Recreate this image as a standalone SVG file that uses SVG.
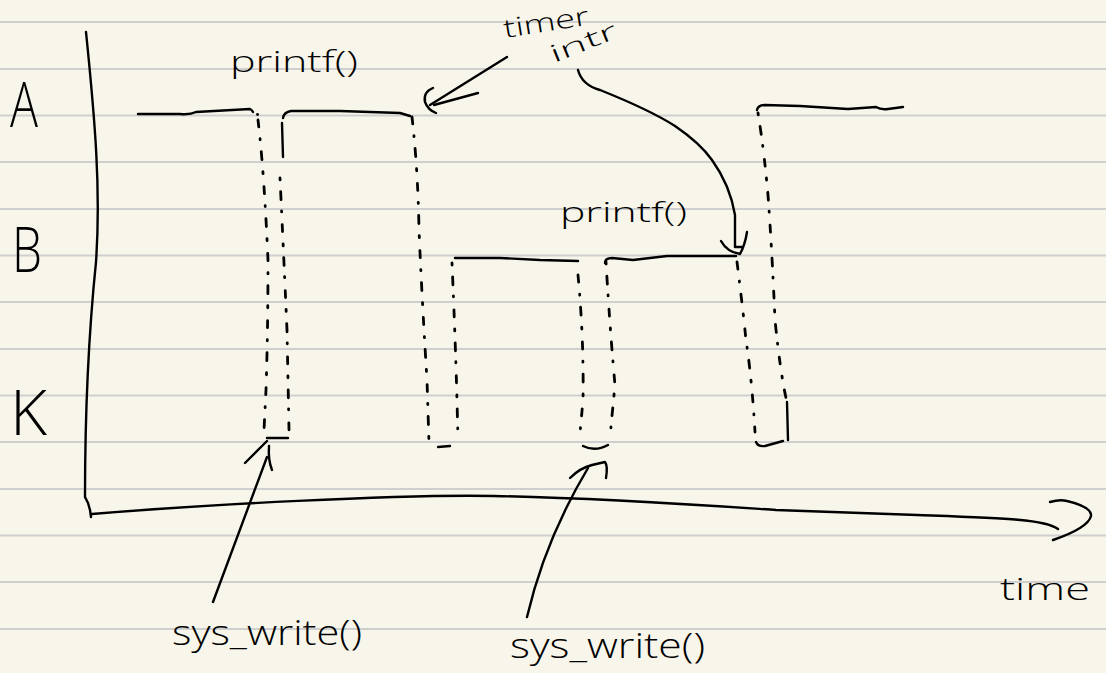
<svg xmlns="http://www.w3.org/2000/svg" width="1106" height="673" viewBox="0 0 1106 673">
<style>
.rule{stroke:#cfcfcf;stroke-width:2.2}
.ink{fill:none;stroke:#000;stroke-width:2.4;stroke-linecap:round;stroke-linejoin:round}
.dash{fill:none;stroke:#000;stroke-width:2.8;stroke-linecap:round;stroke-dasharray:7 12 1 12 8 12 2 13}
.dash2{fill:none;stroke:#000;stroke-width:2.8;stroke-linecap:round;stroke-dasharray:2 12 8 11 1 13 7 12}
.hand{font-family:"Open Sans","Liberation Sans",sans-serif;font-weight:300;fill:#000}
</style>
<rect width="1106" height="673" fill="#f8f6ea"/>
<g id="paper">
<line class="rule" x1="0" y1="22" x2="1106" y2="22"/>
<line class="rule" x1="0" y1="69" x2="1106" y2="69"/>
<line class="rule" x1="0" y1="115.5" x2="1106" y2="115.5"/>
<line class="rule" x1="0" y1="162" x2="1106" y2="162"/>
<line class="rule" x1="0" y1="209" x2="1106" y2="209"/>
<line class="rule" x1="0" y1="255.5" x2="1106" y2="255.5"/>
<line class="rule" x1="0" y1="302" x2="1106" y2="302"/>
<line class="rule" x1="0" y1="349" x2="1106" y2="349"/>
<line class="rule" x1="0" y1="395.5" x2="1106" y2="395.5"/>
<line class="rule" x1="0" y1="442" x2="1106" y2="442"/>
<line class="rule" x1="0" y1="489" x2="1106" y2="489"/>
<line class="rule" x1="0" y1="535.5" x2="1106" y2="535.5"/>
<line class="rule" x1="0" y1="582" x2="1106" y2="582"/>
<line class="rule" x1="0" y1="629" x2="1106" y2="629"/>
</g>
<g id="axes">
<path class="ink" d="M86,32 C95,120 101,190 96,262 C89,330 85,420 85,497 L88,503 L90,510 L91,517"/>
<path class="ink" d="M92,514 C200,505 400,494 494,496 C600,498 700,505 776,510 L917,515 C1000,518 1045,519 1058,529"/>
<path class="ink" d="M1050,502 Q1060,499 1067,501 Q1092,507 1091,516 Q1088,528 1053,540"/>
</g>
<g id="lane-A">
<text class="hand" x="10" y="127" font-size="62" textLength="28" lengthAdjust="spacingAndGlyphs">A</text>
<path class="ink" d="M138,114 L180,114 Q190,115 196,112 L250,109 Q252,110 253,112"/>
<circle cx="257.5" cy="114.5" r="1.4"/>
<path class="ink" d="M283,118 Q284,112 291,111 L340,111 L400,113 L410,116"/>
<path class="ink" d="M757,110 Q758,105 765,105 L800,106 L848,109 L876,107 Q881,110 888,109 L903,107"/>
<text class="hand" x="230" y="72" font-size="30" textLength="128" lengthAdjust="spacingAndGlyphs">printf()</text>
</g>
<g id="lane-B">
<text class="hand" x="12" y="272" font-size="62" textLength="30" lengthAdjust="spacingAndGlyphs">B</text>
<path class="ink" d="M455,258 L500,258 L540,260 L578,261"/>
<path class="ink" d="M605,263 Q605,258 612,258 L633,260 L667,256 L736,256"/>
<text class="hand" x="560" y="222" font-size="27" textLength="127" lengthAdjust="spacingAndGlyphs">printf()</text>
</g>
<g id="lane-K">
<text class="hand" x="10" y="435" font-size="62" textLength="37" lengthAdjust="spacingAndGlyphs">K</text>
</g>
<g id="syscall-1">
<path class="dash" d="M258,120 Q264,170 268,260 Q268,330 266,390 L264,430"/>
<path class="ink" d="M282,123 L283,157"/>
<path class="dash2" d="M280,178 Q283,240 287,330 L289,430"/>
<path class="ink" d="M267,438 L288,438"/>
</g>
<g id="switch-A-B">
<path class="dash" d="M412,117 Q418,170 419,230 Q422,300 427,380 L429,443"/>
<path class="dash2" d="M452,263 Q455,330 457,400 L458,440"/>
<path class="ink" d="M438,447 L450,446"/>
</g>
<g id="syscall-2">
<path class="dash" d="M578,275 Q584,340 583,400 L580,433"/>
<path class="dash2" d="M606,262 Q610,330 615,385 Q612,415 610,438"/>
<path class="ink" d="M583,446 Q595,452 608,445"/>
</g>
<g id="switch-B-A">
<path class="dash" d="M737,262 Q743,310 746,340 Q752,380 755,432"/>
<path class="dash2" d="M758,113 Q764,150 768,195 Q772,250 775,320 Q780,370 786,398"/>
<path class="ink" d="M787,402 L788,440"/>
<path class="ink" d="M756,442 Q758,447 765,446 L783,441"/>
</g>
<g id="timer-intr">
<text class="hand" font-size="26" transform="translate(505,38) rotate(-9)" textLength="86" lengthAdjust="spacingAndGlyphs">timer</text>
<text class="hand" font-size="24" transform="translate(554,63) rotate(-22)" textLength="70" lengthAdjust="spacingAndGlyphs">intr</text>
</g>
<g id="labels">
<text class="hand" x="172" y="645" font-size="34" textLength="190" lengthAdjust="spacingAndGlyphs">sys_write()</text>
<text class="hand" x="510" y="658" font-size="34" textLength="195" lengthAdjust="spacingAndGlyphs">sys_write()</text>
<text class="hand" x="1000" y="600" font-size="32" textLength="90" lengthAdjust="spacingAndGlyphs">time</text>
</g>
<g id="connectors">
<path class="ink" d="M507,57 L430,105"/>
<path class="ink" d="M478,93 L434,105"/>
<path class="ink" d="M433,88 Q423,92 425,102 Q428,110 436,113"/>
<path class="ink" d="M578,70 Q582,85 600,90 Q650,110 675,126 Q700,143 712,160 Q730,185 735,215 L735,247 L742,247"/>
<path class="ink" d="M721,241 Q727,252 740,254 Q745,245 747,232"/>
<path class="ink" d="M213,602 L267,457"/>
<path class="ink" d="M245,463 Q256,452 267,441"/>
<path class="ink" d="M269,446 Q268,460 272,470"/>
<path class="ink" d="M527,617 Q545,540 588,468"/>
<path class="ink" d="M570,478 Q580,468 592,465 L605,462 Q608,466 606,478"/>
</g>
</svg>
